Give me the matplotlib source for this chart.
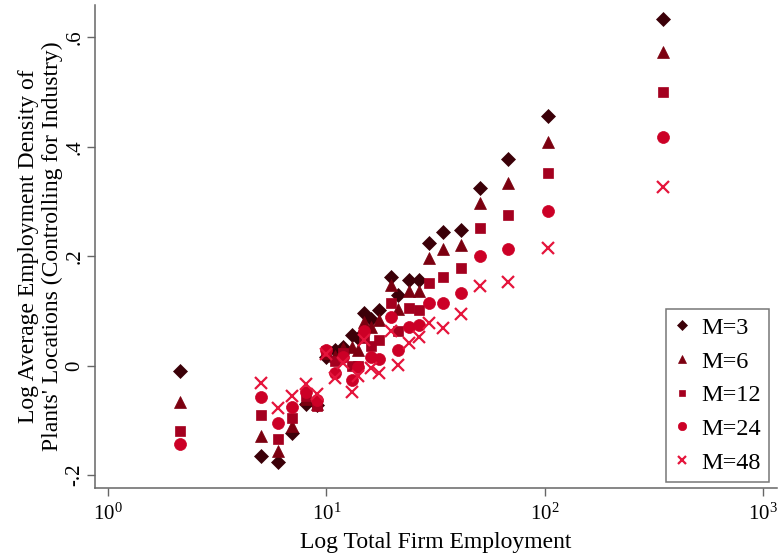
import numpy as np
import matplotlib
matplotlib.use("Agg")
import matplotlib.pyplot as plt

plt.rcParams['font.family'] = ['Liberation Serif', 'DejaVu Serif']
plt.rcParams['mathtext.fontset'] = 'custom'
plt.rcParams['mathtext.rm'] = 'Liberation Serif'
plt.rcParams['mathtext.it'] = 'Liberation Serif'

# Firm size bins (total firm employment)
firm_size = [2.14, 5.0, 6.02, 6.98, 8.04, 9.03, 9.96, 10.95, 11.95, 13.06, 14.0, 14.8,
             16.0, 17.47, 19.76, 21.2, 23.97, 26.4, 29.6, 34.0, 41.1, 50.5, 67.6, 103.8, 348.9]

m3 = [-0.0099, -0.1653, -0.1762, -0.1227, -0.0702, -0.0720, 0.0152, 0.0285, 0.0346, 0.0559,
      0.0505, 0.0967, 0.0846, 0.1016, 0.1625, 0.1291, 0.1565, 0.1565, 0.2236, 0.2437,
      0.2473, 0.3252, 0.3777, 0.4563, 0.6336]
m6 = [-0.0665, -0.1282, -0.1561, -0.1104, -0.0611, -0.0702, 0.0230, 0.0176, 0.0322, 0.0335,
      0.0285, 0.0803, 0.0700, 0.0834, 0.1473, 0.1029, 0.1369, 0.1369, 0.1962, 0.2126,
      0.2199, 0.2967, 0.3344, 0.4093, 0.5739]
m12 = [-0.1196, -0.0903, -0.1342, -0.0952, -0.0556, -0.0739, 0.0267, 0.0084, 0.0230, -0.0007,
       -0.0007, 0.0505, 0.0358, 0.0468, 0.1150, 0.0633, 0.1048, 0.1016, 0.1516, 0.1614,
       0.1779, 0.2521, 0.2748, 0.3516, 0.4996]
m24 = [-0.1428, -0.0569, -0.1044, -0.0751, -0.0477, -0.0629, 0.0285, -0.0130, 0.0163, -0.0263,
       -0.0020, 0.0633, 0.0152, 0.0115, 0.0894, 0.0285, 0.0700, 0.0742, 0.1150, 0.1135,
       0.1333, 0.2009, 0.2126, 0.2832, 0.4174]
m48 = [np.nan, -0.0324, -0.0770, -0.0556, -0.0342, -0.0525, 0.0212, -0.0232, 0.0048, -0.0477,
       -0.0190, 0.0468, -0.0049, -0.0141, 0.0633, 0.0011, 0.0419, 0.0528, 0.0784, 0.0687,
       0.0938, 0.1455, 0.1528, 0.2155, 0.3260]

labels = ['M=3', 'M=6', 'M=12', 'M=24', 'M=48']
series = [m3, m6, m12, m24, m48]

x_ticks = [1, 10, 100, 1000]
x_tick_labels = [r'$\mathrm{10^{0}}$', r'$\mathrm{10^{1}}$', r'$\mathrm{10^{2}}$', r'$\mathrm{10^{3}}$']
y_ticks = [-0.2, 0.0, 0.2, 0.4, 0.6]
y_tick_labels = ['-.2', '0', '.2', '.4', '.6']

colors = ['#3b0008', '#7c0010', '#a4001f', '#cc0026', '#e5153c']
markers = ['D', '^', 's', 'o', 'x']
sizes = [7.6, 9.0, 6.6, 8.6, 8.0]

W, H = 778, 554
fig = plt.figure(figsize=(W / 100, H / 100), dpi=100)
ax = fig.add_axes([94.7 / W, (H - 488.3) / H, 682 / W, 483.3 / H])

for ys, lab, c, mk, ms in zip(series, labels, colors, markers, sizes):
    if mk == 'x':
        ax.plot(firm_size, ys, linestyle='none', marker=mk, ms=ms, mew=1.6,
                color=c, label=lab)
    else:
        ax.plot(firm_size, ys, linestyle='none', marker=mk, ms=ms, mew=0.5,
                mfc=c, mec=c, label=lab)

ax.set_xscale('log')
ax.set_xlim(10 ** -0.061, 10 ** 3.061)
ax.set_ylim(-0.2243, 0.659)
ax.xaxis.set_minor_locator(matplotlib.ticker.NullLocator())
ax.set_xticks(x_ticks)
ax.set_xticklabels(x_tick_labels, fontsize=15)
ax.set_yticks(y_ticks)
ax.set_yticklabels(y_tick_labels, fontsize=15, rotation=90, va='center')

for s in ['top', 'right']:
    ax.spines[s].set_visible(False)
for s in ['left', 'bottom']:
    ax.spines[s].set_color('#666666')
    ax.spines[s].set_linewidth(1.1)
ax.tick_params(axis='both', direction='out', length=6, width=1.0, color='#666666',
               pad=5, labelcolor='black')
ax.tick_params(axis='y', pad=1.5)

ax.set_xlabel('Log Total Firm Employment', fontsize=17, labelpad=5)
ax.set_ylabel("Log Average Employment Density of\nPlants' Locations (Controlling for Industry)",
              fontsize=17, linespacing=1.22)
ax.yaxis.set_label_coords(-0.046, 0.5)

leg = ax.legend(loc='lower right', bbox_to_anchor=(0.989, 0.0137), borderaxespad=0,
                fontsize=17.5, frameon=True, fancybox=False, markerscale=0.7,
                handlelength=0.6, handletextpad=0.52, labelspacing=0.48,
                borderpad=0.33)
leg.get_frame().set_edgecolor('#555555')
leg.get_frame().set_linewidth(1.1)

fig.savefig('out.png', dpi=100)
